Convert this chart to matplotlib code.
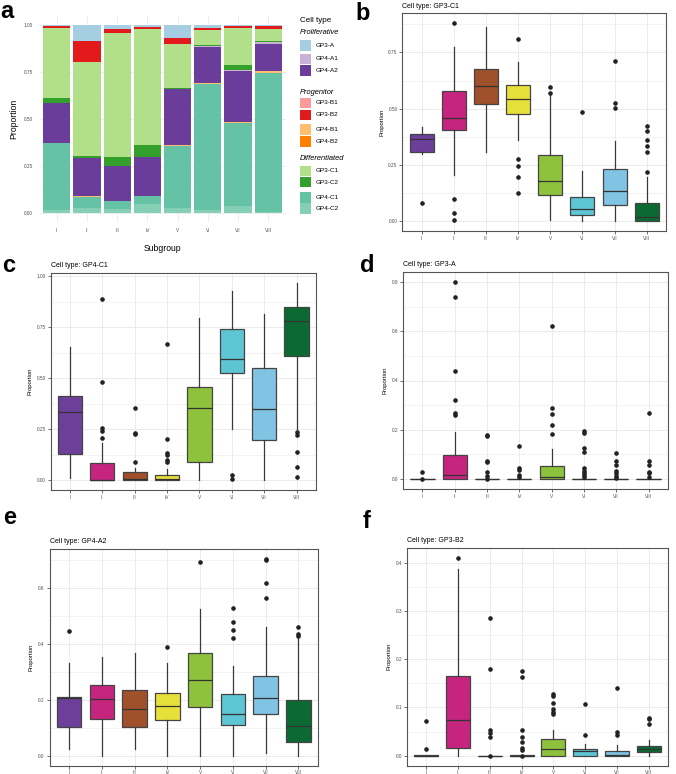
import matplotlib
matplotlib.use("Agg")
import matplotlib.pyplot as plt
from matplotlib.patches import Rectangle
from matplotlib.ticker import MultipleLocator

plt.rcParams['font.family'] = ['Liberation Sans', 'DejaVu Sans']

W, H = 676, 774

subgroups = ["I", "II", "III", "IV", "V", "VI", "VII", "VIII"]
group_colors = ["#6E3E9B", "#C6257F", "#A0502A", "#E8E03A",
                "#8EC23C", "#5EC5D5", "#80C3E2", "#0B6A32"]

# panel a: proportions per cell type (stacked bottom -> top)
stack_order = ["GP4-C2", "GP4-C1", "GP4-B2", "GP4-B1", "GP4-A2", "GP4-A1",
               "GP3-C2", "GP3-C1", "GP3-B2", "GP3-B1", "GP3-A"]
celltype_colors = {
    "GP3-A": "#A6CEE3", "GP4-A1": "#CAB2D6", "GP4-A2": "#6A3D9A",
    "GP3-B1": "#FB9A99", "GP3-B2": "#E31A1C", "GP4-B1": "#FDBF6F",
    "GP4-B2": "#FF7F00", "GP3-C1": "#B2DF8A", "GP3-C2": "#33A02C",
    "GP4-C1": "#66C2A5", "GP4-C2": "#85CFB4",
}
prop_gp4_c2 = [0.014, 0.023, 0.020, 0.044, 0.027, 0.014, 0.035, 0.003]
prop_gp4_c1 = [0.356, 0.062, 0.042, 0.045, 0.328, 0.673, 0.441, 0.745]
prop_gp4_b2 = [0.000, 0.000, 0.000, 0.000, 0.000, 0.000, 0.000, 0.000]
prop_gp4_b1 = [0.003, 0.003, 0.002, 0.002, 0.004, 0.003, 0.009, 0.007]
prop_gp4_a2 = [0.213, 0.202, 0.186, 0.207, 0.300, 0.195, 0.272, 0.147]
prop_gp4_a1 = [0.000, 0.000, 0.000, 0.000, 0.000, 0.003, 0.002, 0.007]
prop_gp3_c2 = [0.027, 0.012, 0.045, 0.062, 0.009, 0.005, 0.031, 0.007]
prop_gp3_c1 = [0.373, 0.503, 0.666, 0.619, 0.234, 0.080, 0.196, 0.062]
prop_gp3_b2 = [0.010, 0.110, 0.018, 0.012, 0.032, 0.013, 0.010, 0.018]
prop_gp3_b1 = [0.000, 0.002, 0.000, 0.000, 0.000, 0.000, 0.000, 0.000]
prop_gp3_a = [0.004, 0.083, 0.021, 0.009, 0.066, 0.014, 0.004, 0.004]
proportions = [prop_gp4_c2, prop_gp4_c1, prop_gp4_b2, prop_gp4_b1, prop_gp4_a2,
               prop_gp4_a1, prop_gp3_c2, prop_gp3_c1, prop_gp3_b2, prop_gp3_b1,
               prop_gp3_a]

legend_groups = [("Proliferative", ["GP3-A", "GP4-A1", "GP4-A2"]),
                 ("Progenitor", ["GP3-B1", "GP3-B2", "GP4-B1", "GP4-B2"]),
                 ("Differentiated", ["GP3-C1", "GP3-C2", "GP4-C1", "GP4-C2"])]

# box plot summaries: q1, median, q3, whisker low, whisker high, outliers
gp3c1_q1 = [0.306, 0.407, 0.519, 0.475, 0.118, 0.025, 0.072, 0.000]
gp3c1_med = [0.365, 0.460, 0.602, 0.544, 0.178, 0.056, 0.133, 0.019]
gp3c1_q3 = [0.386, 0.580, 0.676, 0.607, 0.294, 0.108, 0.230, 0.081]
gp3c1_lo = [0.300, 0.204, 0.306, 0.360, 0.005, 0.000, 0.000, 0.000]
gp3c1_hi = [0.420, 0.772, 0.865, 0.709, 0.562, 0.222, 0.355, 0.197]
gp3c1_out = [[0.081], [0.880, 0.100, 0.034, 0.003], [],
             [0.810, 0.277, 0.244, 0.197, 0.126], [0.595, 0.571], [0.485],
             [0.713, 0.525, 0.501], [0.423, 0.402, 0.362, 0.333, 0.308, 0.217]]

gp4c1_q1 = [0.127, 0.000, 0.000, 0.000, 0.091, 0.524, 0.197, 0.610]
gp4c1_med = [0.336, 0.000, 0.008, 0.004, 0.356, 0.595, 0.351, 0.780]
gp4c1_q3 = [0.414, 0.082, 0.038, 0.026, 0.455, 0.741, 0.551, 0.850]
gp4c1_lo = [0.010, 0.000, 0.000, 0.000, 0.000, 0.251, 0.000, 0.250]
gp4c1_hi = [0.651, 0.180, 0.060, 0.055, 0.793, 0.928, 0.814, 0.967]
gp4c1_out = [[], [0.887, 0.481, 0.258, 0.243, 0.206],
             [0.354, 0.232, 0.228, 0.091],
             [0.669, 0.200, 0.132, 0.124, 0.100, 0.091], [], [0.026, 0.008], [],
             [0.237, 0.223, 0.137, 0.065, 0.016]]

gp3a_q1 = [0.0, 0.000, 0.0, 0.0, 0.000, 0.0, 0.0, 0.0]
gp3a_med = [0.0, 0.017, 0.0, 0.0, 0.008, 0.0, 0.0, 0.0]
gp3a_q3 = [0.0, 0.099, 0.0, 0.0, 0.052, 0.002, 0.0, 0.0]
gp3a_lo = [0.0, 0.000, 0.0, 0.0, 0.000, 0.0, 0.0, 0.0]
gp3a_hi = [0.0, 0.193, 0.0, 0.0, 0.123, 0.004, 0.0, 0.0]
gp3a_out = [[0.030, 0.0], [0.800, 0.738, 0.439, 0.321, 0.268, 0.262],
            [0.181, 0.176, 0.072, 0.068, 0.030, 0.013, 0.0],
            [0.134, 0.044, 0.036, 0.017, 0.008],
            [0.621, 0.287, 0.264, 0.220, 0.183],
            [0.196, 0.187, 0.128, 0.110, 0.044, 0.034, 0.024, 0.015, 0.008],
            [0.105, 0.074, 0.059, 0.031, 0.024, 0.013, 0.004],
            [0.268, 0.074, 0.059, 0.030, 0.024, 0.008]]

gp4a2_q1 = [0.101, 0.130, 0.104, 0.129, 0.173, 0.110, 0.149, 0.049]
gp4a2_med = [0.205, 0.202, 0.165, 0.176, 0.272, 0.148, 0.205, 0.106]
gp4a2_q3 = [0.211, 0.254, 0.234, 0.223, 0.367, 0.222, 0.286, 0.198]
gp4a2_lo = [0.025, 0.000, 0.023, 0.000, 0.000, 0.000, 0.010, 0.000]
gp4a2_hi = [0.330, 0.352, 0.365, 0.330, 0.525, 0.321, 0.461, 0.421]
gp4a2_out = [[0.444], [], [], [0.387], [0.693], [0.529, 0.476, 0.448, 0.420],
             [0.703, 0.699, 0.618, 0.563], [0.461, 0.433, 0.428]]

gp3b2_q1 = [0.000, 0.016, 0.0, 0.0, 0.000, 0.000, 0.000, 0.007]
gp3b2_med = [0.000, 0.074, 0.0, 0.0, 0.014, 0.009, 0.002, 0.013]
gp3b2_q3 = [0.0015, 0.166, 0.0, 0.001, 0.035, 0.014, 0.010, 0.020]
gp3b2_lo = [0.000, 0.000, 0.0, 0.0, 0.000, 0.000, 0.000, 0.000]
gp3b2_hi = [0.002, 0.386, 0.0, 0.001, 0.054, 0.025, 0.023, 0.032]
gp3b2_out = [[0.072, 0.013], [0.410], [0.285, 0.179, 0.054, 0.047, 0.038, 0.0],
             [0.175, 0.164, 0.054, 0.039, 0.028, 0.016, 0.012, 0.0],
             [0.128, 0.123, 0.110, 0.096, 0.090, 0.086], [0.108, 0.042],
             [0.141, 0.050, 0.042], [0.079, 0.076, 0.066]]


def px_axes(x0, y0, x1, y1):
    return fig.add_axes([x0 / W, 1 - y1 / H, (x1 - x0) / W, (y1 - y0) / H])


fig = plt.figure(figsize=(W / 100, H / 100), dpi=100)

# overlay for letters and legend, in pixel coordinates
over = fig.add_axes([0, 0, 1, 1], zorder=-5)
over.set_xlim(0, W)
over.set_ylim(H, 0)
over.axis("off")

# ---- panel a ----
ax = px_axes(38.6, 16, 286.4, 222)
x = list(range(1, 9))
bottom = [0.0] * 8
for name, vals in zip(stack_order, proportions):
    ax.bar(x, vals, width=0.9, bottom=bottom, color=celltype_colors[name],
           linewidth=0, zorder=2)
    bottom = [b + v for b, v in zip(bottom, vals)]
ax.set_xlim(0.4, 8.6)
ax.set_ylim(-0.05, 1.05)
ax.set_yticks([0, 0.25, 0.5, 0.75, 1.0])
ax.set_yticklabels(["0.00", "0.25", "0.50", "0.75", "1.00"])
ax.yaxis.set_minor_locator(MultipleLocator(0.125))
ax.set_xticks(x)
ax.set_xticklabels(subgroups)
ax.grid(True, which="major", color="#EBEBEB", lw=0.6, zorder=0)
ax.grid(True, which="minor", axis="y", color="#F4F4F4", lw=0.4, zorder=0)
ax.tick_params(length=0, labelsize=3.4, labelcolor="#4D4D4D", pad=4)
ax.tick_params(which="minor", length=0)
for s in ax.spines.values():
    s.set_visible(False)
ax.set_ylabel("Proportion", fontsize=6.2, labelpad=4)
ax.set_xlabel("Subgroup", fontsize=6.2, labelpad=8)

# legend for panel a
over.text(300, 20, "Cell type", fontsize=5.8, va="center", ha="left")
legend_y = {"Proliferative": 33, "GP3-A": 45.5, "GP4-A1": 59, "GP4-A2": 70.5,
            "Progenitor": 92, "GP3-B1": 103, "GP3-B2": 115, "GP4-B1": 129.5,
            "GP4-B2": 141.5, "Differentiated": 158, "GP3-C1": 171,
            "GP3-C2": 182, "GP4-C1": 197.5, "GP4-C2": 208.5}
for header, members in legend_groups:
    over.text(300, legend_y[header], header, fontsize=5.4, style="italic",
              va="center", ha="left")
    for m in members:
        yc = legend_y[m]
        over.add_patch(Rectangle((300, yc - 5.2), 11, 10.4,
                                 color=celltype_colors[m], lw=0))
        over.text(316, yc, m, fontsize=4.6, va="center", ha="left")

# ---- box plot panels ----
panels = [
    ("GP3-C1", (402.4, 13.3, 666, 231), (gp3c1_q1, gp3c1_med, gp3c1_q3, gp3c1_lo, gp3c1_hi, gp3c1_out), 0.25, 0.125, "{:.2f}"),
    ("GP4-C1", (50.5, 273, 316, 490), (gp4c1_q1, gp4c1_med, gp4c1_q3, gp4c1_lo, gp4c1_hi, gp4c1_out), 0.25, 0.125, "{:.2f}"),
    ("GP3-A", (403, 272, 668, 489), (gp3a_q1, gp3a_med, gp3a_q3, gp3a_lo, gp3a_hi, gp3a_out), 0.2, 0.1, "{:.1f}"),
    ("GP4-A2", (49.5, 549, 318, 765.5), (gp4a2_q1, gp4a2_med, gp4a2_q3, gp4a2_lo, gp4a2_hi, gp4a2_out), 0.2, 0.1, "{:.1f}"),
    ("GP3-B2", (407, 548, 668, 765.5), (gp3b2_q1, gp3b2_med, gp3b2_q3, gp3b2_lo, gp3b2_hi, gp3b2_out), 0.1, 0.05, "{:.1f}"),
]

for ctype, box, stats, major, minor, fmt in panels:
    ax = px_axes(*box)
    q1, med, q3, lo, hi, out = stats
    bxstats = []
    for i in range(8):
        bxstats.append(dict(q1=q1[i], med=med[i], q3=q3[i], whislo=lo[i],
                            whishi=hi[i], fliers=out[i]))
    art = ax.bxp(bxstats, positions=x, widths=0.75, patch_artist=True,
                 showcaps=False,
                 boxprops=dict(edgecolor="#444444", linewidth=0.9),
                 whiskerprops=dict(color="#3A3A3A", linewidth=0.9),
                 medianprops=dict(color="#333333", linewidth=0.9),
                 flierprops=dict(marker="o", markersize=2.3,
                                 markerfacecolor="#222222",
                                 markeredgecolor="#222222"))
    for patch, c in zip(art["boxes"], group_colors):
        patch.set_facecolor(c)
    for a in art["boxes"] + art["whiskers"] + art["medians"] + art["fliers"]:
        a.set_zorder(3)
    vals = lo + hi + [v for o in out for v in o]
    ymin, ymax = min(vals), max(vals)
    r = ymax - ymin
    ax.set_ylim(ymin - 0.05 * r, ymax + 0.05 * r)
    ax.set_xlim(0.4, 8.6)
    ax.set_xticks(x)
    ax.set_xticklabels(subgroups)
    ax.yaxis.set_major_locator(MultipleLocator(major))
    ax.yaxis.set_minor_locator(MultipleLocator(minor))
    ax.yaxis.set_major_formatter(plt.FuncFormatter(lambda v, p, f=fmt: f.format(v)))
    ax.grid(True, which="major", color="#EBEBEB", lw=0.7, zorder=0)
    ax.grid(True, which="minor", axis="y", color="#EBEBEB", lw=0.4, zorder=0)
    ax.set_axisbelow(True)
    ax.tick_params(length=2, width=0.5, color="#333333", labelsize=3.4,
                   labelcolor="#4D4D4D", pad=1.5)
    ax.tick_params(which="minor", length=0)
    for s in ax.spines.values():
        s.set_color("#555555")
        s.set_linewidth(0.8)
    ax.set_ylabel("Proportion", fontsize=4.3, labelpad=3)
    ax.set_title("Cell type: " + ctype, fontsize=5, loc="left", pad=4)

# panel letters
for letter, (lx, ly) in zip("abcdef", [(0, 11), (355, 13), (2, 266),
                                       (360, 266), (3, 518), (363, 522)]):
    over.text(lx, ly, letter, fontsize=17, fontweight="bold", va="center",
              ha="left")

fig.savefig("out.png", dpi=100)
